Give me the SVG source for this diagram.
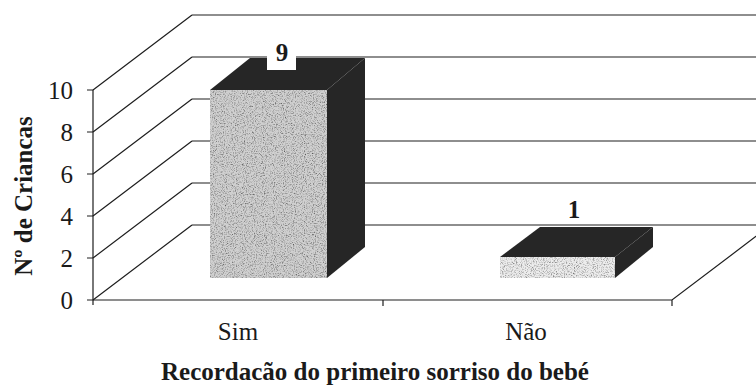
<svg xmlns="http://www.w3.org/2000/svg" width="756" height="389" viewBox="0 0 756 389">
<style>
.ln{stroke:#1e1e1e;stroke-width:1.2;fill:none}
.tk{font-family:"Liberation Serif","Times New Roman",Times,"DejaVu Serif",serif;font-size:25px;fill:#1a1a1a}
.bd{font-family:"Liberation Serif","Times New Roman",Times,"DejaVu Serif",serif;font-size:25px;font-weight:bold;fill:#1a1a1a}
.dark{fill:#262626}
</style>
<defs>
<filter id="grain" x="0" y="0" width="1" height="1">
<feTurbulence type="fractalNoise" baseFrequency="0.9" numOctaves="2" seed="4" result="n"/>
<feColorMatrix in="n" type="matrix" values="0 0 0 0 0  0 0 0 0 0  0 0 0 0 0  -2 0 0 0 1.1" result="d"/>
<feComposite in="d" in2="SourceGraphic" operator="in" result="dots"/>
<feMerge><feMergeNode in="SourceGraphic"/><feMergeNode in="dots"/></feMerge>
</filter>
</defs>
<rect width="756" height="389" fill="#fff"/>
<g id="grid">
<path class="ln" d="M192 15H756M192 57H756M192 99H756M192 141H756M192 183H756M192 225H756"/>
<path class="ln" d="M93 90L192 15M93 132L192 57M93 174L192 99M93 216L192 141M93 258L192 183M93 300L192 225"/>
</g>
<g id="axes">
<path class="ln" d="M93 90V305M87 90H93M87 132H93M87 174H93M87 216H93M87 258H93M87 300H93"/>
<path class="ln" d="M93 300H672L771 225M383 300V306M672 300V306"/>
<text class="tk" x="73" y="99" text-anchor="end">10</text>
<text class="tk" x="73" y="141" text-anchor="end">8</text>
<text class="tk" x="73" y="183" text-anchor="end">6</text>
<text class="tk" x="73" y="225" text-anchor="end">4</text>
<text class="tk" x="73" y="267" text-anchor="end">2</text>
<text class="tk" x="73" y="309" text-anchor="end">0</text>
<text class="bd" transform="translate(32 196) rotate(-90)" text-anchor="middle">Nº de Criancas</text>
<text class="tk" x="238" y="340" text-anchor="middle">Sim</text>
<text class="tk" x="526" y="340" text-anchor="middle">Não</text>
<text class="bd" x="375" y="380" text-anchor="middle">Recordacão do primeiro sorriso do bebé</text>
</g>
<g id="bar-sim">
<rect x="210" y="90" width="117" height="188" fill="#d0d0d0" filter="url(#grain)"/>
<polygon class="dark" points="210,90 250,58 365,58 327,90"/>
<polygon class="dark" points="327,90 365,58 365,247 327,278"/>
<rect x="267" y="38" width="29" height="32" fill="#fff"/>
<text class="bd" x="282" y="61" text-anchor="middle">9</text>
</g>
<g id="bar-nao">
<rect x="500" y="257" width="115" height="21" fill="#ececec" filter="url(#grain)"/>
<polygon class="dark" points="500,257 540,227 653,227 615,257"/>
<polygon class="dark" points="615,257 653,227 653,247 615,278"/>
<text class="bd" x="574" y="218" text-anchor="middle">1</text>
</g>
</svg>
